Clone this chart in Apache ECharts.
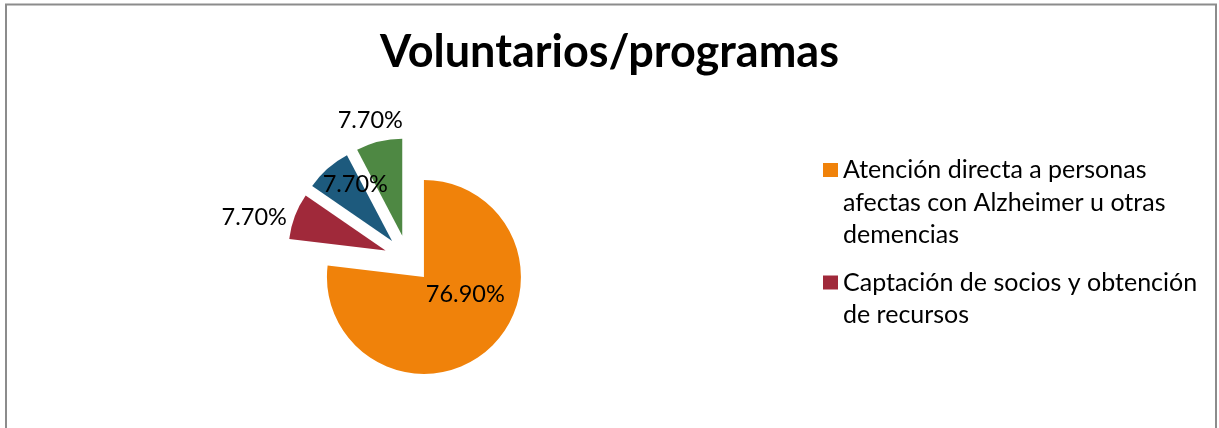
<!DOCTYPE html>
<html>
<head>
<meta charset="utf-8">
<script src="https://cdn.jsdelivr.net/npm/echarts@6/dist/echarts.min.js"></script>
<style>
  html, body { margin: 0; padding: 0; background: #fff; }
  #chart { width: 1219px; height: 428px; }
</style>
</head>
<body>
<div id="chart"></div>
<script>
// Voluntarios por programa (porcentaje)
var programas = [
    'Atención directa a personas afectas con Alzheimer u otras demencias',
    'Captación de socios y obtención de recursos',
    'Sensibilización',
    'Formación'
]
var porcentajes = [76.9, 7.7, 7.7, 7.7]
var colores = ['#F0820A', '#A0293A', '#1D5A7D', '#4E8843']
// leyenda: solo caben las dos primeras entradas
var leyenda = [
    'Atención directa a personas\nafectas con Alzheimer u otras\ndemencias',
    'Captación de socios y obtención\nde recursos'
]
// ajuste de la posición de las etiquetas [length, length2]
var ajusteEtiqueta = [[-73, -19], [-2, 4.8], [-20.8, -51.4], [22.2, -34.2]]

var lh = 32.5
var chart = echarts.init(document.getElementById('chart'))

var datos = []
for (let i = 0; i < porcentajes.length; ++i) {
    datos.push({
        name: programas[i],
        value: porcentajes[i],
        selected: true,
        itemStyle: { color: colores[i] },
        labelLine: { show: false, length: ajusteEtiqueta[i][0], length2: ajusteEtiqueta[i][1] }
    })
}

chart.setOption({
    animation: false,
    title: {
        text: 'Voluntarios/programas',
        left: 'center',
        top: 25,
        textStyle: {
            fontFamily: 'Lato',
            fontWeight: 'bold',
            fontSize: 45,
            color: '#000'
        }
    },
    legend: {
        orient: 'vertical',
        left: 823,
        top: 88.75,
        padding: 0,
        itemGap: -17.5,
        itemWidth: 15,
        itemHeight: 14,
        icon: 'rect',
        selectedMode: false,
        data: programas.slice(0, leyenda.length),
        formatter: function (name) {
            var txt = leyenda[programas.indexOf(name)]
            // lineas vacias delante para que el cuadro quede junto a la primera linea
            var n = txt.split('\n').length
            return '\n'.repeat(n - 1) + txt
        },
        textStyle: {
            fontFamily: 'Lato',
            fontSize: 25,
            lineHeight: lh,
            color: '#000'
        }
    },
    graphic: [{
        type: 'rect',
        shape: { x: 6, y: 4.5, width: 1210, height: 440 },
        style: { fill: 'none', stroke: '#8c8c8c', lineWidth: 2 },
        silent: true
    }],
    series: [{
        type: 'pie',
        center: [408, 259],
        radius: 97,
        startAngle: 90,
        clockwise: true,
        selectedMode: 'multiple',
        selectedOffset: 24,
        avoidLabelOverlap: false,
        emphasis: { disabled: true },
        label: {
            position: 'outside',
            fontFamily: 'Lato',
            fontSize: 23.5,
            color: '#000',
            distanceToLabelLine: 5,
            formatter: function (p) {
                return p.value.toFixed(2) + '%'
            }
        },
        data: datos
    }]
})
</script>
</body>
</html>
